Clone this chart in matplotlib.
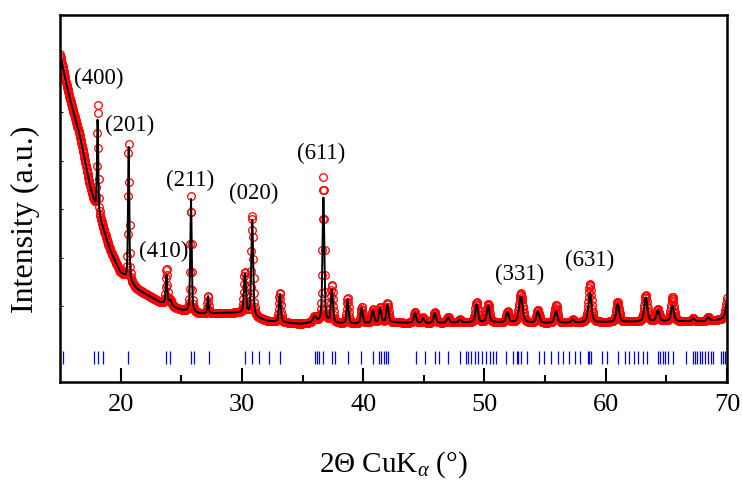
import numpy as np
import matplotlib; matplotlib.use("Agg"); import matplotlib.pyplot as plt

plt.rcParams['font.family'] = ['Liberation Serif', 'DejaVu Serif']
plt.rcParams['mathtext.fontset'] = 'custom'
plt.rcParams['mathtext.rm'] = 'Liberation Serif'
plt.rcParams['mathtext.it'] = 'Liberation Serif:italic'

# background knots (2theta, intensity a.u.)
bg_x = [15.0, 15.5, 15.82, 16.65, 17.47, 17.9, 18.3, 19.1, 19.95, 21.35, 23.2, 25.1, 26.5, 28.5,
        29.8, 32.1, 34.8, 36.0, 39.0, 42.5, 45.0, 50.0, 55.0, 60.0, 65.0, 68.0, 69.5, 70.0]
bg_y = [89.4, 81.5, 77.1, 67.0, 53.4, 48.0, 44.5, 36.2, 30.0, 25.3, 21.8, 19.5, 18.6, 18.8,
        18.8, 16.6, 15.8, 16.2, 15.8, 16.2, 16.0, 16.3, 16.0, 16.3, 16.5, 16.5, 17.0, 17.5]

# reflections: position, calc height, obs height, fwhm
pk_pos  = [18.10, 20.66, 23.78, 24.10, 25.80, 27.20, 30.25, 30.85, 33.13, 36.00, 36.72, 37.42,
           38.72, 39.88, 40.80, 41.40, 42.00, 44.27, 44.95, 45.90, 47.00, 47.98, 49.35, 50.30,
           51.90, 53.00, 54.40, 55.90, 57.27, 58.70, 60.98, 63.30, 64.30, 65.50, 67.20, 68.45, 70.05]
pk_calc = [25.7, 37.3, 8.0, 1.5, 30.8, 4.8, 11.0, 26.5, 7.7, 1.5, 34.0, 9.0,
           6.8, 4.3, 3.5, 4.0, 4.8, 2.8, 1.3, 2.8, 1.5, 0.8, 5.0, 4.5,
           2.8, 7.2, 3.2, 3.2, 0.8, 8.1, 5.0, 6.6, 3.0, 4.3, 0.8, 1.0, 5.5]
pk_obs  = [29.7, 38.0, 9.8, 1.5, 31.5, 4.8, 11.5, 27.5, 8.0, 1.5, 39.5, 10.0,
           7.0, 4.5, 3.8, 4.3, 5.2, 3.0, 1.5, 3.0, 1.6, 0.8, 5.5, 5.0,
           3.0, 8.0, 3.5, 5.0, 0.8, 10.4, 5.5, 7.2, 3.3, 6.6, 0.8, 1.0, 6.0]
pk_fwhm = [0.12, 0.12, 0.15, 0.25, 0.14, 0.12, 0.20, 0.18, 0.18, 0.30, 0.18, 0.20,
           0.18, 0.20, 0.22, 0.22, 0.22, 0.22, 0.22, 0.22, 0.22, 0.25, 0.25, 0.25,
           0.25, 0.35, 0.28, 0.28, 0.25, 0.30, 0.28, 0.30, 0.28, 0.28, 0.25, 0.25, 0.30]

# Bragg reflection markers
bragg = [15.26, 17.77, 18.13, 18.58, 20.64, 23.73, 24.10, 25.80, 26.05, 27.26, 30.28, 30.83,
         31.39, 32.20, 33.15, 35.99, 36.17, 36.35, 36.72, 37.46, 37.64, 38.74, 39.85, 40.77,
         41.32, 41.50, 41.69, 41.87, 42.06, 44.34, 45.07, 45.92, 46.29, 47.03, 47.95, 48.50,
         48.68, 48.87, 49.24, 49.49, 49.79, 50.15, 50.45, 50.71, 50.96, 51.80, 52.36, 52.66,
         52.80, 53.03, 53.47, 54.50, 54.94, 55.50, 56.05, 56.48, 56.97, 57.50, 57.90, 58.55,
         58.65, 58.80, 59.72, 60.10, 61.00, 61.56, 61.93, 62.30, 62.67, 63.04, 63.40, 64.32,
         64.45, 64.69, 64.88, 65.17, 65.53, 66.64, 67.16, 67.38, 67.56, 67.74, 67.93, 68.19,
         68.41, 68.66, 68.85, 69.48, 69.66, 69.85]

labels = ["(400)", "(201)", "(211)", "(410)", "(020)", "(611)", "(331)", "(631)"]
lab_x  = [18.2, 20.77, 25.72, 23.52, 30.94, 36.5, 52.87, 58.64]
lab_y  = [83.1, 70.3, 55.3, 35.8, 51.7, 62.6, 29.7, 33.3]

def profile(x, heights):
    y = np.interp(x, bg_x, bg_y)
    for p, h, w in zip(pk_pos, heights, pk_fwhm):
        d = (x - p) / w
        y = y + h * (0.5 / (1 + 4 * d**2) + 0.5 * np.exp(-4 * np.log(2) * d**2))
    return y

tt = np.arange(15.0, 70.0001, 0.03)
y_obs = profile(tt, pk_obs)
y_calc = profile(tt, pk_calc)

fig = plt.figure(figsize=(7.42, 4.85), dpi=100)
ax = fig.add_axes([0.0809, 0.2103, 0.8989, 0.7567])
ax.plot(tt, y_obs, 'o', mfc='none', mec='red', ms=5.5, mew=0.9, zorder=2)
ax.plot(tt, y_calc, '-', color='black', lw=1.4, zorder=3)
ax.vlines(bragg, 5.0, 8.5, color='blue', lw=0.9, zorder=2)
for t, xx, yy in zip(labels, lab_x, lab_y):
    ax.text(xx, yy, t, ha='center', va='center', fontsize=16.5)

ax.set_xlim(15, 70)
ax.set_ylim(0, 100)
ax.set_xticks([20, 30, 40, 50, 60, 70])
ax.set_xticks([25, 35, 45, 55, 65], minor=True)
ax.set_yticks([20.7, 33.9, 47.1, 60.3, 73.5, 86.7])
ax.set_yticklabels([])
ax.tick_params(axis='x', which='major', direction='in', length=10, width=1.5, labelsize=19, pad=8)
ax.tick_params(axis='x', which='minor', direction='in', length=5, width=1.5)
ax.tick_params(axis='y', direction='in', length=2, width=0.8)
for s in ax.spines.values():
    s.set_linewidth(1.8)

fig.text(0.530, 0.041, r'2$\Theta$ CuK$_{\alpha}$ (°)', ha='center', va='center', fontsize=21)
fig.text(0.034, 0.548, 'Intensity (a.u.)', ha='center', va='center', rotation=90, fontsize=23)

fig.savefig("out.png", dpi=100)
